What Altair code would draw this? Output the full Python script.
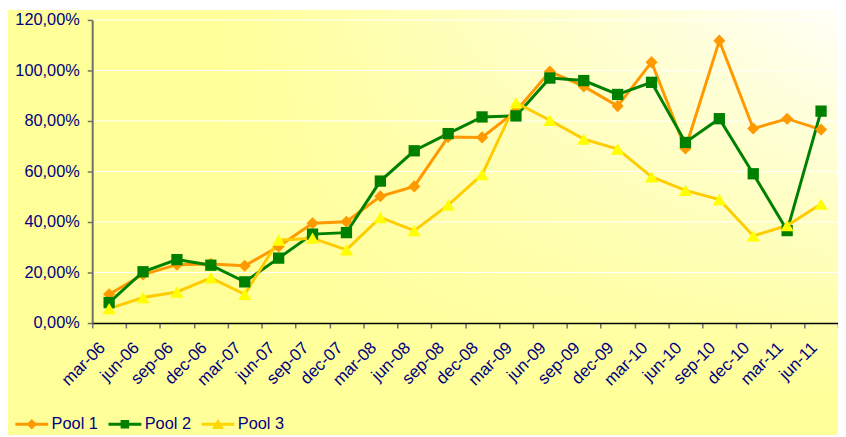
import altair as alt
import pandas as pd

dates = ["mar-06", "jun-06", "sep-06", "dec-06", "mar-07", "jun-07", "sep-07", "dec-07",
         "mar-08", "jun-08", "sep-08", "dec-08", "mar-09", "jun-09", "sep-09", "dec-09",
         "mar-10", "jun-10", "sep-10", "dec-10", "mar-11", "jun-11"]
series_names = ["Pool 1", "Pool 2", "Pool 3"]
pool1 = [11.4, 19.2, 23.1, 23.4, 22.7, 30.3, 39.5, 40.1, 50.2, 54.1, 73.7, 73.5,
         83.9, 99.6, 93.7, 85.9, 103.3, 69.1, 111.8, 77.0, 80.9, 76.6]
pool2 = [8.1, 20.3, 25.1, 22.9, 16.3, 25.7, 35.2, 35.8, 56.2, 68.2, 75.0, 81.6,
         82.0, 97.0, 96.0, 90.5, 95.3, 71.5, 80.9, 59.1, 36.6, 83.9]
pool3 = [5.7, 10.1, 12.3, 17.9, 11.4, 32.8, 33.6, 29.0, 41.8, 36.6, 46.7, 58.8,
         87.2, 80.3, 72.8, 68.9, 57.9, 52.5, 48.9, 34.5, 38.6, 47.1]
y_ticks = [0, 20, 40, 60, 80, 100, 120]

line_colors = ["#FF9900", "#008000", "#FFCC00"]
marker_fills = ["#FF9900", "#008000", "#FFFF00"]
legend_fills = ["#FF9900", "#008000", "#FFD700"]
marker_shapes = ["diamond", "square", "triangle-up"]
marker_sizes = [150, 130, 175]
# legend glyphs: a short line (as a thin bar) with the series marker on it
legend_paths = [
    "M-1,-0.09L1,-0.09L1,0.09L-1,0.09Z M0,-0.32L0.32,0L0,0.32L-0.32,0Z",
    "M-1,-0.09L1,-0.09L1,0.09L-1,0.09Z M-0.26,-0.26L0.26,-0.26L0.26,0.26L-0.26,0.26Z",
    "M-1,-0.09L1,-0.09L1,0.09L-1,0.09Z M0,-0.33L0.36,0.28L-0.36,0.28Z",
]

rows = []
for name, vals in zip(series_names, [pool1, pool2, pool3]):
    for d, v in zip(dates, vals):
        rows.append({"date": d, "series": name, "value": v})
df = pd.DataFrame(rows)
grid_df = pd.DataFrame({"value": y_ticks[1:]})
bg_df = pd.DataFrame({"k": [0]})

W, H = 753, 306
PL, PT, PR, PB = 85, 10, 0, 113
FONT = "Liberation Sans"
LABEL = "#000080"

x_enc = alt.X(
    "date:N", sort=dates,
    scale=alt.Scale(type="band", paddingInner=0, paddingOuter=0),
    axis=alt.Axis(title=None, labelAngle=-45, labelAlign="right", labelBaseline="middle",
                  tickBand="extent", tickSize=5, labelPadding=17, labelOffset=-7,
                  labelOverlap=False,
                  domainColor="#000000", domainWidth=1.5, tickColor="#707070", tickWidth=1.5,
                  grid=False, labelFont=FONT, labelFontSize=17, labelColor=LABEL, zindex=1),
)
y_enc = alt.Y(
    "value:Q", scale=alt.Scale(domain=[0, 120], nice=False, zero=True),
    axis=alt.Axis(title=None, values=y_ticks,
                  labelExpr="replace(format(datum.value, '.2f'), '.', ',') + '%'",
                  grid=False, tickSize=5, labelPadding=8, domainColor="#707060",
                  domainWidth=2, tickColor="#707060", tickWidth=1.5,
                  labelFont=FONT, labelFontSize=16.5, labelColor=LABEL, zindex=1),
)

grad_h = {"gradient": "linear", "x1": 0, "y1": 0, "x2": 1, "y2": 0,
          "stops": [{"offset": 0, "color": "#FFFF99"}, {"offset": 0.25, "color": "#FFFF99"},
                    {"offset": 1, "color": "#FFFFF8"}]}
grad_v = {"gradient": "linear", "x1": 0, "y1": 0, "x2": 0, "y2": 1,
          "stops": [{"offset": 0, "color": "rgba(255,255,153,0)"},
                    {"offset": 0.92, "color": "rgba(255,255,153,1)"},
                    {"offset": 1, "color": "rgba(255,255,153,1)"}]}

bg_enc = dict(x=alt.value(-PL), x2=alt.value(W + PR), y=alt.value(-PT), y2=alt.value(H + PB))
bg1 = alt.Chart(bg_df).mark_rect(fill=grad_h).encode(**bg_enc)
bg2 = alt.Chart(bg_df).mark_rect(fill=grad_v).encode(**bg_enc)

grid = alt.Chart(grid_df).mark_rule(color="#FFFFFF", strokeWidth=1).encode(y=y_enc)

lines = alt.Chart(df).mark_line(strokeWidth=3).encode(
    x=x_enc, y=y_enc,
    color=alt.Color("series:N", scale=alt.Scale(domain=series_names, range=line_colors), legend=None),
)

points = alt.Chart(df).mark_point(filled=True, opacity=1, strokeWidth=0).encode(
    x=x_enc, y=y_enc,
    shape=alt.Shape("series:N", scale=alt.Scale(domain=series_names, range=marker_shapes), legend=None),
    fill=alt.Fill("series:N", scale=alt.Scale(domain=series_names, range=marker_fills), legend=None),
    size=alt.Size("series:N", scale=alt.Scale(type="ordinal", domain=series_names, range=marker_sizes),
                  legend=None),
)


def make_leg():
    return alt.Legend(title=None, orient="none", legendX=-78, legendY=391,
                      direction="horizontal", symbolSize=1100, symbolStrokeWidth=0,
                      labelFont=FONT, labelFontSize=16.5,
                      labelColor=LABEL, labelOffset=3, columnPadding=10, zindex=1)


legend_layer = alt.Chart(df).transform_filter(
    alt.datum.date == dates[0]
).mark_point(filled=True, opacity=1, strokeWidth=0, clip=True).encode(
    x=alt.value(-3000), y=alt.value(-3000),
    shape=alt.Shape("series:N", scale=alt.Scale(domain=series_names, range=legend_paths), legend=make_leg()),
    fill=alt.Fill("series:N", scale=alt.Scale(domain=series_names, range=legend_fills), legend=make_leg()),
)

chart = alt.layer(bg1, bg2, grid, lines, points, legend_layer).resolve_scale(
    shape="independent", fill="independent"
).properties(
    width=W, height=H, autosize="none",
    padding={"left": PL, "top": PT, "right": PR, "bottom": PB},
).configure_view(stroke=None)

chart.save("out.html", embed_options={"renderer": "svg", "actions": False})
